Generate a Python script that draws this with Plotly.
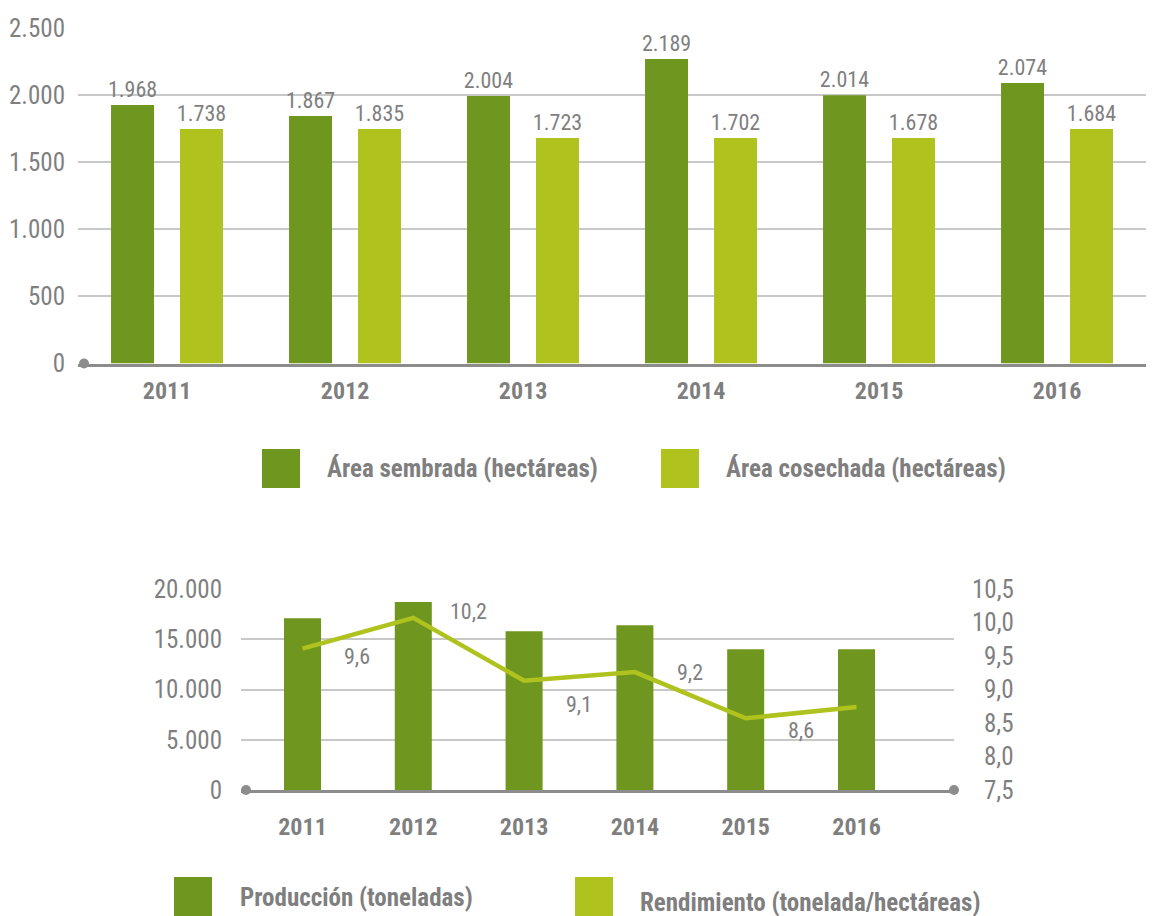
import plotly.graph_objects as go

# ---------------- data ----------------
years = ["2011", "2012", "2013", "2014", "2015", "2016"]

# top chart (bar heights as drawn, printed labels as shown)
area_sembrada = [1926, 1844, 1993, 2269, 1998, 2090]
area_sembrada_labels = ["1.968", "1.867", "2.004", "2.189", "2.014", "2.074"]
area_cosechada = [1747, 1747, 1680, 1680, 1680, 1747]
area_cosechada_labels = ["1.738", "1.835", "1.723", "1.702", "1.678", "1.684"]
top_ticks = [0, 500, 1000, 1500, 2000, 2500]

# bottom chart
produccion = [17100, 18700, 15800, 16400, 14000, 14000]
rendimiento = [9.61, 10.07, 9.13, 9.26, 8.57, 8.74]
rendimiento_labels = ["9,6", "10,2", "9,1", "9,2", "8,6", ""]
bottom_ticks = [0, 5000, 10000, 15000, 20000]
right_ticks = [7.5, 8.0, 8.5, 9.0, 9.5, 10.0, 10.5]

legend_top = ["Área sembrada (hectáreas)", "Área cosechada (hectáreas)"]
legend_bottom = ["Producción (toneladas)", "Rendimiento (tonelada/hectáreas)"]

# ---------------- style ----------------
W, H = 1152, 916
FONT = "Liberation Sans Narrow, Arial Narrow, Roboto Condensed, sans-serif"
GRAY = "#7F7F7F"
DARK = "#6F961F"
LIGHT = "#AFC21D"
GRID = "#C8C8C8"
AXIS = "#8C8C8C"


def px(x):
    return x / W


def py(y):
    return 1 - y / H


fig = go.Figure()

fig.add_trace(go.Bar(
    x=years, y=area_sembrada, text=area_sembrada_labels, name=legend_top[0],
    textposition="outside", constraintext="none", cliponaxis=False,
    textfont=dict(family=FONT, size=22, color=GRAY),
    marker=dict(color=DARK, line=dict(width=0)), xaxis="x", yaxis="y",
))
fig.add_trace(go.Bar(
    x=years, y=area_cosechada, text=area_cosechada_labels, name=legend_top[1],
    textposition="outside", constraintext="none", cliponaxis=False,
    textfont=dict(family=FONT, size=22, color=GRAY),
    marker=dict(color=LIGHT, line=dict(width=0)), xaxis="x", yaxis="y",
))
fig.add_trace(go.Bar(
    x=years, y=produccion, name=legend_bottom[0], width=0.334,
    marker=dict(color=DARK, line=dict(width=0)), xaxis="x2", yaxis="y2",
))
fig.add_trace(go.Scatter(
    x=years, y=rendimiento, name=legend_bottom[1], mode="lines",
    line=dict(color=LIGHT, width=4.5), xaxis="x2", yaxis="y3",
))

annotations = []
# line labels, placed half a category to the right of each point
label_yshift = [-8, 6, -24, 0, -12, 0]
for i, lab in enumerate(rendimiento_labels):
    if not lab:
        continue
    annotations.append(dict(
        x=i, y=rendimiento[i], xref="x2", yref="y3", text=lab,
        showarrow=False, xshift=55, yshift=label_yshift[i],
        font=dict(family=FONT, size=22, color=GRAY),
    ))
# right-axis tick labels (right aligned)
for v in right_ticks:
    annotations.append(dict(
        x=px(1016), y=v, xref="paper", yref="y3", xanchor="right",
        text=f"{v:.1f}".replace(".", ","), showarrow=False,
        font=dict(family=FONT, size=25, color=GRAY),
    ))

shapes = []
# legends
leg_specs = [
    (legend_top[0], DARK, 262, 449, 325, 468),
    (legend_top[1], LIGHT, 661, 449, 724, 468),
    (legend_bottom[0], DARK, 174, 877, 238, 897),
    (legend_bottom[1], LIGHT, 575, 877, 638, 902),
]
for text, col, sx, sy, tx, ty in leg_specs:
    shapes.append(dict(type="rect", xref="paper", yref="paper",
                       x0=px(sx), x1=px(sx + 38), y0=py(sy + 39), y1=py(sy),
                       fillcolor=col, line=dict(width=0), layer="above"))
    annotations.append(dict(x=px(tx), y=py(ty), xref="paper", yref="paper",
                            xanchor="left", yanchor="middle", text=text,
                            showarrow=False,
                            font=dict(family=FONT, size=25, color=GRAY,
                                      weight="bold")))

# dots at the ends of the baselines (paper-anchored so they are not clipped)
for cx, cy in [(84, 363.5), (246, 790), (954, 790)]:
    shapes.append(dict(type="circle", xref="paper", yref="paper",
                       xsizemode="pixel", ysizemode="pixel",
                       xanchor=px(cx), yanchor=py(cy),
                       x0=-5, x1=5, y0=-5, y1=5, fillcolor=AXIS,
                       line=dict(width=0), layer="above"))

tickfont = dict(family=FONT, size=25, color=GRAY)
catfont = dict(family=FONT, size=24, color=GRAY, weight="bold")

fig.update_layout(
    template="none",
    width=W, height=H, autosize=False,
    margin=dict(l=0, r=0, t=0, b=0, pad=0),
    paper_bgcolor="white", plot_bgcolor="white",
    separators=",.",
    showlegend=False,
    barmode="group", bargap=0.225, bargroupgap=0.377,
    font=dict(family=FONT, color=GRAY),
    xaxis=dict(domain=[px(78), px(1146)], anchor="y", type="category",
               range=[-0.5, 5.5], showgrid=False, showline=True,
               linecolor=AXIS, linewidth=3, ticks="", tickfont=catfont,
               ticklabelstandoff=4, automargin=False),
    yaxis=dict(domain=[py(363.5), py(28)], anchor="x", range=[0, 2500],
               tickvals=top_ticks, tickformat=",d", showgrid=True,
               gridcolor=GRID, gridwidth=1.5, zeroline=False, showline=False,
               ticks="", tickfont=tickfont, ticklabelstandoff=12,
               automargin=False),
    xaxis2=dict(domain=[px(241), px(954)], anchor="y2", type="category",
                range=[-0.555, 5.88], showgrid=False, showline=True,
                linecolor=AXIS, linewidth=3, ticks="", tickfont=catfont,
                ticklabelstandoff=13, automargin=False),
    yaxis2=dict(domain=[py(790), py(589)], anchor="x2", range=[0, 20000],
                tickvals=bottom_ticks, tickformat=",d", showgrid=True,
                gridcolor=GRID, gridwidth=1.5, zeroline=False, showline=False,
                ticks="", tickfont=tickfont, ticklabelstandoff=18,
                automargin=False),
    yaxis3=dict(overlaying="y2", anchor="x2", side="right", range=[7.5, 10.5],
                showgrid=False, zeroline=False, showticklabels=False,
                showline=False, ticks="", automargin=False),
    annotations=annotations,
    shapes=shapes,
)

fig.write_html("out.html", config={"displayModeBar": False},
               post_script="document.body.style.margin='0';")
